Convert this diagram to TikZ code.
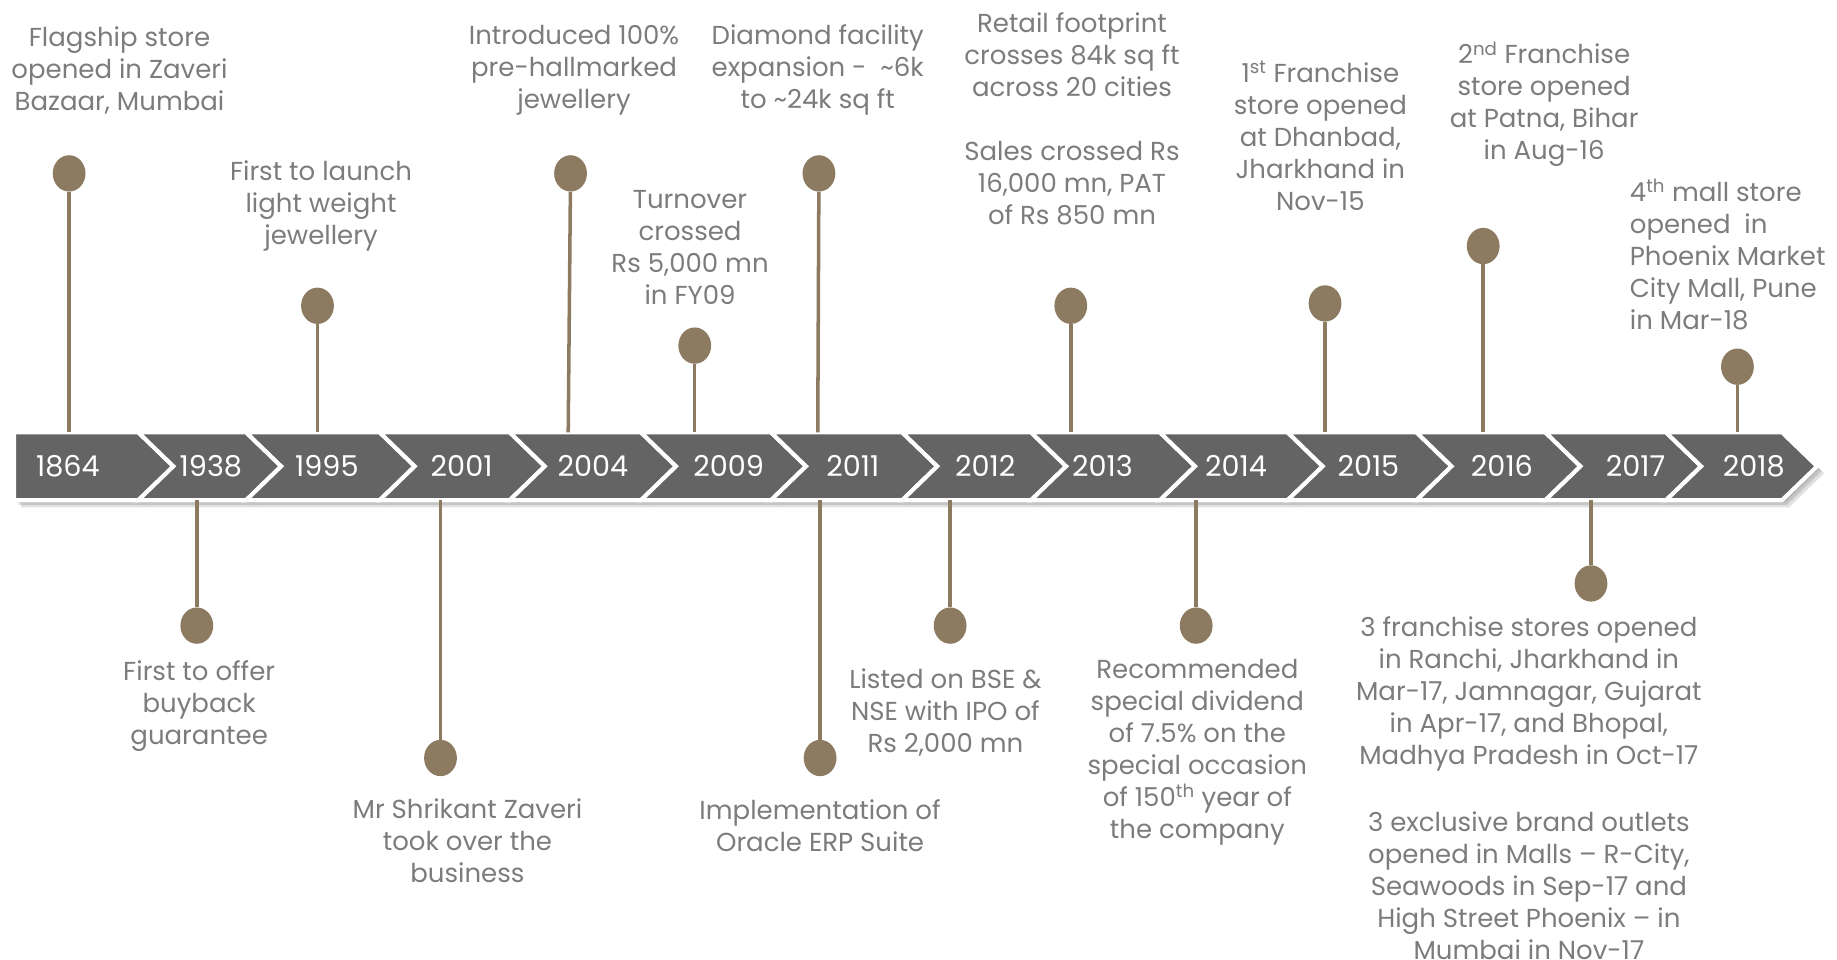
\documentclass[tikz,border=0pt]{standalone}
\usepackage{fontspec}
\setmainfont{Poppins}
\usetikzlibrary{shapes.geometric}
\definecolor{txt}{HTML}{7C7C7C}
\definecolor{pin}{HTML}{8C7B61}
\definecolor{band}{HTML}{646464}
\begin{document}
\begin{tikzpicture}[x=1pt,y=-1pt,
  lbl/.style={text=txt, align=center, font=\fontsize{22.2}{27.3}\selectfont, inner sep=0pt},
  dot/.style={ellipse, fill=pin, minimum width=28pt, minimum height=31pt, inner sep=0pt},
  stem/.style={draw=pin, line width=3pt},
  yr/.style={text=white, font=\fontsize{24.5}{28}\selectfont, inner sep=0pt},
  chev/.style={fill=band, draw=white, line width=3.5pt, line join=miter},
  shade/.style={fill=black, opacity=0.12},
]
\useasboundingbox (0,0) rectangle (1568,818.6);
% --- banner ---
\def\tp{369}\def\bt{427}\def\md{398}\def\dd{30}
\foreach \a/\b [count=\i] in {-1000/148,148/240,240/354,354/465,465/577,577/688,688/800,800/910,910/1020,1020/1129,1129/1239,1239/1349,1349/1452,1452/1551}{
  \ifnum\i=1
    \foreach \s in {2,4,6}{\fill[shade,xshift=\s pt,yshift=-\s pt] (12,\tp) -- (\b-\dd,\tp) -- (\b,\md) -- (\b-\dd,\bt) -- (12,\bt) -- cycle;}
  \else
    \foreach \s in {2,4,6}{\fill[shade,xshift=\s pt,yshift=-\s pt] (\a-\dd,\tp) -- (\b-\dd,\tp) -- (\b,\md) -- (\b-\dd,\bt) -- (\a-\dd,\bt) -- (\a,\md) -- cycle;}
  \fi
}
\foreach \a/\b [count=\i] in {-1000/148,148/240,240/354,354/465,465/577,577/688,688/800,800/910,910/1020,1020/1129,1129/1239,1239/1349,1349/1452,1452/1551}{
  \ifnum\i=1
    \path[chev] (12,\tp) -- (\b-\dd,\tp) -- (\b,\md) -- (\b-\dd,\bt) -- (12,\bt) -- cycle;
  \else
    \path[chev] (\a-\dd,\tp) -- (\b-\dd,\tp) -- (\b,\md) -- (\b-\dd,\bt) -- (\a-\dd,\bt) -- (\a,\md) -- cycle;
  \fi
}
\foreach \y/\x in {1864/58,1938/180,1995/279,2001/394,2004/506,2009/622,2011/728,2012/841,2013/941,2014/1055,2015/1168,2016/1282,2017/1396,2018/1497}{
  \node[yr] (y\y) at (\x,\md) {\y};
}
% --- pins above ---
\foreach \n/\x/\y/\z in {u1864/59/148/59,u1995/271/261/271,u2004/487/148/485,u2009/593/295/593,u2011/699/148/698,u2013/914/261/914,u2015/1131/259/1131,u2016/1266/210/1266,u2018/1483/313/1483}{
  \node[dot] (d\n) at (\x,\y) {};
  \coordinate (b\n) at (\z,\tp);
  \draw[stem] (d\n) -- (b\n);
}
% --- pins below ---
\foreach \n/\x/\y in {l1938/168/534,l2001/376/647,l2011/700/647,l2012/811/534,l2014/1021/534,l2017/1358/498}{
  \node[dot] (d\n) at (\x,\y) {};
  \coordinate (b\n) at (\x,\bt);
  \draw[stem] (b\n) -- (d\n);
}
% --- texts above ---
\node[lbl] (t1864) at (102,60) {Flagship store\\opened in Zaveri\\Bazaar, Mumbai};
\node[lbl] (t1995) at (274,176) {First to launch\\light weight\\jewellery};
\node[lbl] (t2004) at (490,60) {Introduced 100\%\\pre-hallmarked\\jewellery};
\node[lbl] (t2009) at (589,211) {Turnover\\crossed\\Rs 5,000 mn\\in FY09};
\node[lbl] (t2011) at (698,60) {Diamond facility\\expansion -\ \ \textasciitilde6k\\to \textasciitilde24k sq ft};
\node[lbl] (t2013a) at (915,47) {Retail footprint\\crosses 84k sq ft\\across 20 cities};
\node[lbl] (t2013b) at (915,156) {Sales crossed Rs\\16,000 mn, PAT\\of Rs 850 mn};
\node[lbl] (t2015) at (1127,116) {1\textsuperscript{st} Franchise\\store opened\\at Dhanbad,\\Jharkhand in\\Nov-15};
\node[lbl] (t2016) at (1318,89) {2\textsuperscript{nd} Franchise\\store opened\\at Patna, Bihar\\in Aug-16};
\node[lbl, align=left, anchor=west] (t2018) at (1391,217) {4\textsuperscript{th} mall store\\opened\ \ in\\Phoenix Market\\City Mall, Pune\\in Mar-18};
% --- texts below ---
\node[lbl] (t1938) at (170,603) {First to offer\\buyback\\guarantee};
\node[lbl] (t2001) at (399,718) {Mr Shrikant Zaveri\\took over the\\business};
\node[lbl] (t2011b) at (700,704.5) {Implementation of\\Oracle ERP Suite};
\node[lbl] (t2012) at (807,608) {Listed on BSE \&\\NSE with IPO of\\Rs 2,000 mn};
\node[lbl] (t2014) at (1022,642) {Recommended\\special dividend\\of 7.5\% on the\\special occasion\\of 150\textsuperscript{th} year of\\the company};
\node[lbl] (t2017a) at (1305,592) {3 franchise stores opened\\in Ranchi, Jharkhand in\\Mar-17, Jamnagar, Gujarat\\in Apr-17, and Bhopal,\\Madhya Pradesh in Oct-17};
\node[lbl] (t2017b) at (1305,756) {3 exclusive brand outlets\\opened in Malls – R-City,\\Seawoods in Sep-17 and\\High Street Phoenix – in\\Mumbai in Nov-17};
\end{tikzpicture}
\end{document}
